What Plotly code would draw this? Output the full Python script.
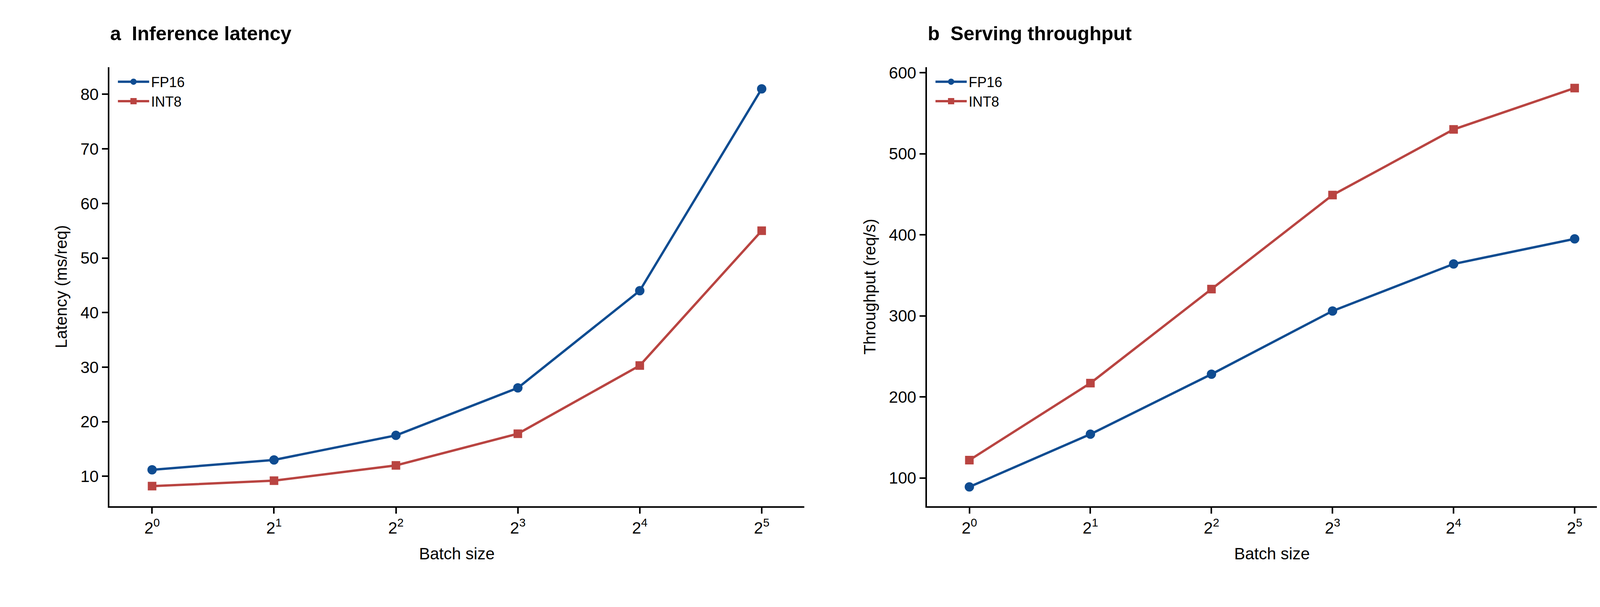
import plotly.graph_objects as go

batch_exp = [0, 1, 2, 3, 4, 5]
tick_labels = ["2<sup>%d</sup>" % e for e in batch_exp]
lat_fp16 = [11.2, 13.0, 17.5, 26.2, 44.0, 81.0]
lat_int8 = [8.2, 9.2, 12.0, 17.8, 30.3, 55.0]
thr_fp16 = [89, 154, 228, 306, 364, 395]
thr_int8 = [122, 217, 333, 449, 530, 581]

BLUE = "#0f4c91"
RED = "#b94441"
FONT = "Liberation Sans"

fig = go.Figure()
def add(x, y, name, color, sym, xa, ya, leg):
    fig.add_trace(go.Scatter(x=x, y=y, name=name, mode="lines+markers",
        line=dict(color=color, width=6),
        marker=dict(symbol=sym, size=24 if sym == "circle" else 22, color=color),
        xaxis=xa, yaxis=ya, legend=leg))

add(batch_exp, lat_fp16, "FP16", BLUE, "circle", "x", "y", "legend")
add(batch_exp, lat_int8, "INT8", RED, "square", "x", "y", "legend")
add(batch_exp, thr_fp16, "FP16", BLUE, "circle", "x2", "y2", "legend2")
add(batch_exp, thr_int8, "INT8", RED, "square", "x2", "y2", "legend2")

axcommon = dict(showline=True, linecolor="black", linewidth=4, ticks="outside",
                ticklen=15, tickwidth=4, tickcolor="black", showgrid=False,
                zeroline=False, tickfont=dict(size=42, color="black"))
xcommon = dict(axcommon, tickvals=batch_exp, ticktext=tick_labels, range=[-0.35, 5.35],
               title=dict(text="Batch size", font=dict(size=42, color="black"), standoff=30))

legcommon = dict(bgcolor="rgba(0,0,0,0)", font=dict(size=36, color="black"),
                 xanchor="left", yanchor="top", itemwidth=80, tracegroupgap=0)

fig.update_layout(
    width=4186, height=1554, paper_bgcolor="white", plot_bgcolor="white",
    font=dict(family=FONT, color="black"),
    margin=dict(l=0, r=0, t=0, b=0), showlegend=True,
    xaxis=dict(xcommon, domain=[0.065, 0.490], anchor="y"),
    yaxis=dict(axcommon, domain=[0.172, 0.9], range=[4.5, 85], tickvals=[10,20,30,40,50,60,70,80],
               title=dict(text="Latency (ms/req)", font=dict(size=42, color="black"), standoff=22), anchor="x"),
    xaxis2=dict(xcommon, domain=[0.565, 0.987], anchor="y2"),
    yaxis2=dict(axcommon, domain=[0.172, 0.9], range=[65, 607], tickvals=[100,200,300,400,500,600],
                title=dict(text="Throughput (req/s)", font=dict(size=42, color="black"), standoff=22), anchor="x2"),
    legend=dict(legcommon, x=0.069, y=0.895),
    legend2=dict(legcommon, x=0.569, y=0.895),
    annotations=[
        dict(text="<b>a  Inference latency</b>", x=0.065, y=0.975, xref="paper", yref="paper",
             xanchor="left", yanchor="top", showarrow=False, font=dict(size=50, color="black")),
        dict(text="<b>b  Serving throughput</b>", x=0.565, y=0.975, xref="paper", yref="paper",
             xanchor="left", yanchor="top", showarrow=False, font=dict(size=50, color="black")),
    ],
)
fig.write_html("out.html")
